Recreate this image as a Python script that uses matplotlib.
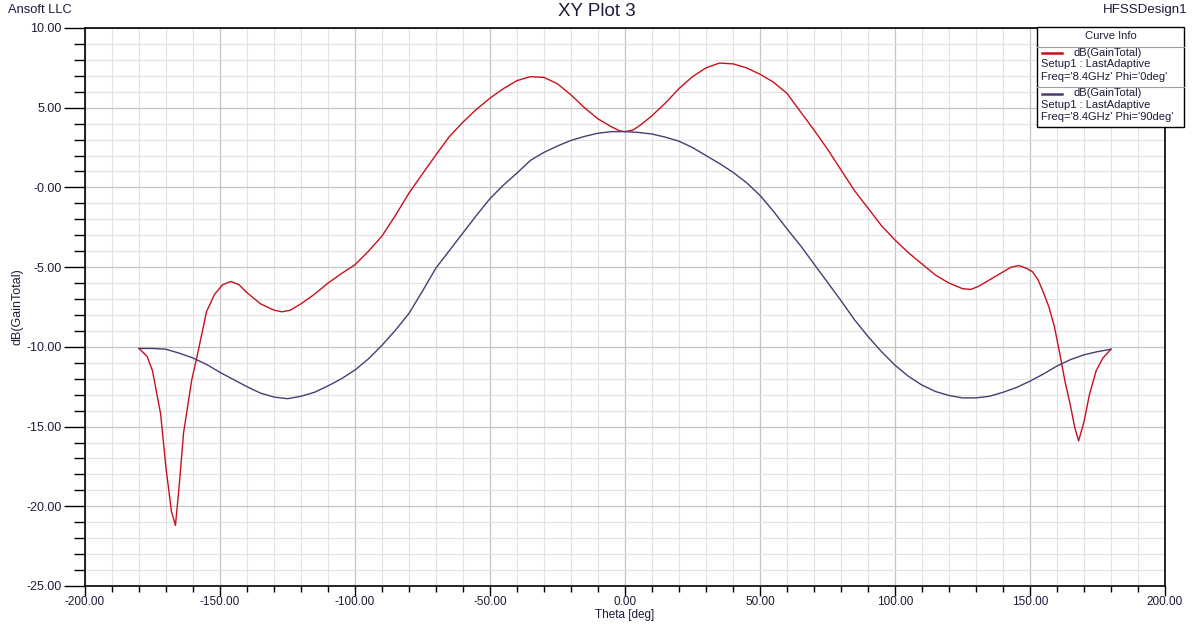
import matplotlib
matplotlib.use("Agg")
import matplotlib.pyplot as plt
from matplotlib.ticker import MultipleLocator, FixedLocator
from matplotlib.patches import Rectangle
from matplotlib.lines import Line2D

plt.rcParams['font.family'] = ['Liberation Sans', 'DejaVu Sans']

# ---- data: dB(GainTotal) vs Theta ----
theta_phi0 = [-180, -177, -175, -172, -170, -168, -166.5, -165, -163.5, -160.5, -158.5,
              -155, -152, -149, -146, -143, -140, -135, -130, -127, -124, -120, -115,
              -110, -105, -100, -95, -90, -85, -80, -75, -70, -65, -60, -55, -50, -45,
              -40, -35, -30, -25, -20, -15, -10, -5, -2, 0, 3, 6, 10, 15, 20, 25, 30,
              35, 40, 45, 50, 55, 60, 65, 70, 75, 80, 85, 90, 95, 100, 105, 110, 115,
              120, 125, 128, 131, 135, 140, 143, 146, 149, 151, 153, 155, 157, 159, 161,
              163, 165, 166.5, 168, 170, 172, 174.5, 177, 180]
gain_phi0 = [-10.1, -10.6, -11.5, -14.2, -17.6, -20.3, -21.2, -18.5, -15.4, -12.1, -10.6,
             -7.8, -6.7, -6.1, -5.9, -6.1, -6.6, -7.3, -7.7, -7.8, -7.7, -7.3, -6.7,
             -6.0, -5.4, -4.85, -4.0, -3.05, -1.75, -0.35, 0.85, 2.05, 3.2, 4.1, 4.9, 5.6, 6.2,
             6.7, 6.95, 6.9, 6.5, 5.8, 5.0, 4.3, 3.8, 3.55, 3.5, 3.6, 3.95, 4.5, 5.3, 6.2, 6.95, 7.5,
             7.8, 7.75, 7.5, 7.1, 6.6, 5.9, 4.75, 3.6, 2.4, 1.1, -0.2, -1.3, -2.4, -3.3, -4.1, -4.8, -5.5,
             -6.0, -6.35, -6.4, -6.2, -5.8, -5.3, -5.0, -4.9, -5.1, -5.3, -5.8, -6.6, -7.5, -8.7, -10.4,
             -12.2, -13.7, -15.0, -15.9, -14.7, -13.0, -11.5, -10.7, -10.15]

theta_phi90 = [-180, -175, -170, -165, -160, -155, -150, -145, -140, -135, -130, -125,
               -120, -115, -110, -105, -100, -95, -90, -85, -80, -75, -70, -65, -60, -55,
               -50, -45, -40, -35, -30, -25, -20, -15, -10, -5, 0, 5, 10, 15, 20, 25, 30,
               35, 40, 45, 50, 55, 60, 65, 70, 75, 80, 85, 90, 95, 100, 105, 110, 115, 120,
               125, 130, 135, 140, 145, 150, 155, 160, 165, 170, 175, 180]
gain_phi90 = [-10.1, -10.1, -10.15, -10.4, -10.7, -11.1, -11.6, -12.05, -12.5, -12.9, -13.15, -13.25,
              -13.1, -12.85, -12.45, -12.0, -11.45, -10.75, -9.9, -8.95, -7.9, -6.5, -5.05, -3.95, -2.85, -1.75,
              -0.7, 0.15, 0.9, 1.7, 2.2, 2.6, 2.95, 3.2, 3.4, 3.5, 3.5, 3.45, 3.35, 3.15, 2.9, 2.5, 2.0,
              1.5, 0.95, 0.3, -0.5, -1.5, -2.6, -3.65, -4.8, -5.95, -7.1, -8.3, -9.35, -10.3, -11.15, -11.85, -12.4, -12.8, -13.05,
              -13.2, -13.2, -13.1, -12.85, -12.55, -12.15, -11.7, -11.2, -10.8, -10.5, -10.3, -10.15]

x_ticks = [-200, -150, -100, -50, 0, 50, 100, 150, 200]
x_tick_labels = ['-200.00', '-150.00', '-100.00', '-50.00', '0.00', '50.00', '100.00', '150.00', '200.00']
y_ticks = [-25, -20, -15, -10, -5, 0, 5, 10]
y_tick_labels = ['-25.00', '-20.00', '-15.00', '-10.00', '-5.00', '-0.00', '5.00', '10.00']

series_names = ['dB(GainTotal)', 'dB(GainTotal)']
series_setup = ['Setup1 : LastAdaptive', 'Setup1 : LastAdaptive']
series_freq = ["Freq='8.4GHz' Phi='0deg'", "Freq='8.4GHz' Phi='90deg'"]
colors = ['#c8101c', '#4b3b72']
text_color = '#1e1b3a'

W, H = 1195, 624
fig = plt.figure(figsize=(W / 100, H / 100), dpi=100)
ax = fig.add_axes([85 / W, 1 - 586 / H, (1165 - 85) / W, (586 - 28) / H])

ax.set_xlim(-200, 200)
ax.set_ylim(-25, 10)

# grid
ax.xaxis.set_major_locator(FixedLocator(x_ticks))
ax.xaxis.set_minor_locator(MultipleLocator(10))
ax.yaxis.set_major_locator(FixedLocator(y_ticks))
ax.yaxis.set_minor_locator(MultipleLocator(1))
ax.grid(which='minor', color='#e2e2e2', linewidth=0.8)
ax.grid(which='major', color='#c4c4c4', linewidth=0.9)
ax.set_axisbelow(True)

ax.set_xticklabels(x_tick_labels)
ax.set_yticklabels(y_tick_labels)
ax.tick_params(axis='x', which='major', direction='out', length=7, width=1, colors='black',
               labelcolor=text_color, labelsize=8.5, pad=0.5)
ax.tick_params(axis='x', which='minor', direction='out', length=4, width=1, colors='black')
ax.tick_params(axis='y', which='major', direction='out', length=15, width=1, colors='black',
               labelcolor=text_color, labelsize=9, pad=2)
ax.tick_params(axis='y', which='minor', direction='out', length=8, width=1, colors='black')

for s in ax.spines.values():
    s.set_color('black')
    s.set_linewidth(1.2)

ax.plot(theta_phi0, gain_phi0, color=colors[0], linewidth=1.0)
ax.plot(theta_phi90, gain_phi90, color=colors[1], linewidth=1.0)

ax.set_ylabel('dB(GainTotal)', fontsize=9, color=text_color, labelpad=2)
fig.text(625 / W, 1 - 615 / H, 'Theta [deg]', fontsize=8.5, color=text_color, ha='center', va='center')

# header texts
fig.text(8 / W, 1 - 10 / H, 'Ansoft LLC', fontsize=9.3, color=text_color, ha='left', va='center')
fig.text(597 / W, 1 - 12 / H, 'XY Plot 3', fontsize=13.5, color=text_color, ha='center', va='center')
fig.text(1187 / W, 1 - 10 / H, 'HFSSDesign1', fontsize=9.6, color=text_color, ha='right', va='center')

# curve info box (legend)
def fx(px):
    return px / W

def fy(py):
    return 1 - py / H

lx0, lx1, ly0, ly1 = 1037, 1184, 27, 127
fig.patches.append(Rectangle((fx(lx0), fy(ly1)), fx(lx1) - fx(lx0), fy(ly0) - fy(ly1),
                             transform=fig.transFigure, facecolor='white', edgecolor='black',
                             linewidth=1.0, zorder=10))
fig.text(fx((lx0 + lx1) / 2), fy(36), 'Curve Info', fontsize=8, color=text_color,
         ha='center', va='center', zorder=11)
for yy in [46.5, 86.5]:
    fig.lines.append(Line2D([fx(lx0), fx(lx1)], [fy(yy), fy(yy)], transform=fig.transFigure,
                            color='#a0a0a0', linewidth=0.8, zorder=11))
for i in range(2):
    base = 53 + i * 40.5
    fig.lines.append(Line2D([fx(1042), fx(1062)], [fy(base), fy(base)], transform=fig.transFigure,
                            color=colors[i], linewidth=1.8, zorder=11))
    fig.text(fx(1073), fy(base), series_names[i], fontsize=8, color=text_color,
             ha='left', va='center', zorder=11)
    fig.text(fx(1041), fy(base + 11), series_setup[i], fontsize=8, color=text_color,
             ha='left', va='center', zorder=11)
    fig.text(fx(1041), fy(base + 24), series_freq[i], fontsize=8, color=text_color,
             ha='left', va='center', zorder=11)

fig.savefig('out.png', dpi=100, facecolor='white')
